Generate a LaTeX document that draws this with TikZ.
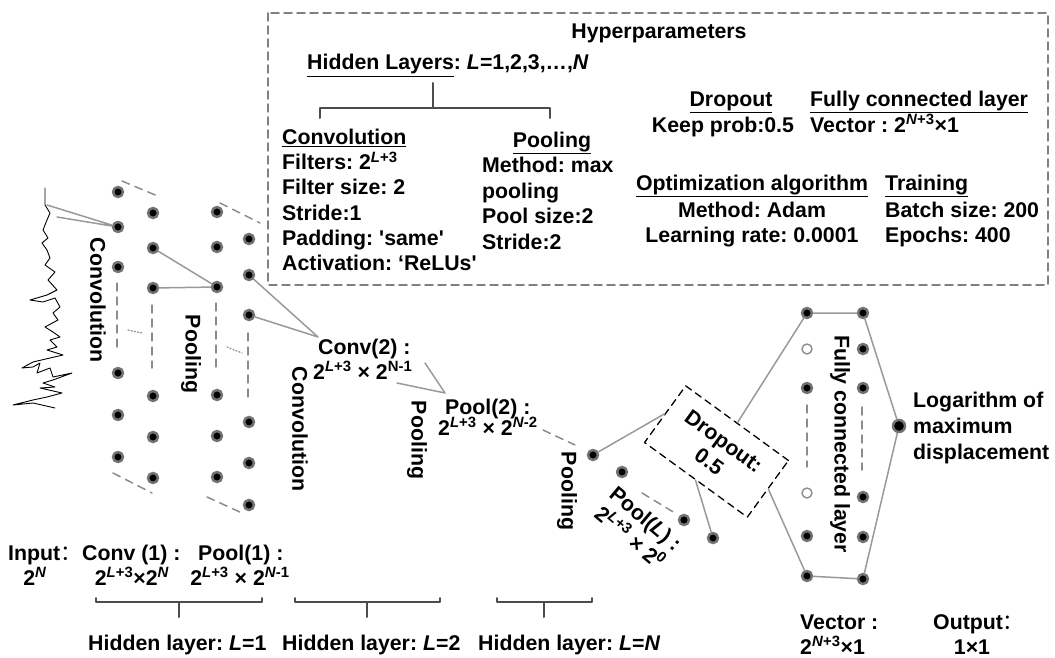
\documentclass[tikz,border=0pt]{standalone}
\usepackage{fontspec}
\newfontfamily\arial{Liberation Sans}
\newfontfamily\cjk{Noto Sans CJK SC}
\newcommand{\twoto}[1]{2\textsuperscript{#1}}
\frenchspacing
\begin{document}
\begin{tikzpicture}[x=1pt, y=-1pt, line join=round, line cap=round,
	font=\arial\bfseries\fontsize{21.3}{25}\selectfont,
	dot/.style={circle, fill=black, draw=black!55, line width=2.5pt, inner sep=0pt, minimum size=10pt},
	hole/.style={circle, fill=white, draw=black!45, line width=1.4pt, inner sep=0pt, minimum size=10pt},
	link/.style={black!40, line width=1.5pt},
	gap/.style={black!45, line width=1.5pt, dash pattern=on 8pt off 6pt},
	brace/.style={black!70, line width=2pt},
	txt/.style={inner sep=0pt, anchor=base west},
	ctr/.style={inner sep=0pt, anchor=base},
	vert/.style={inner sep=0pt, rotate=-90}]
	\useasboundingbox (0,0) rectangle (1055,658);
	% hyperparameters
	\draw[black!50, line width=1.5pt, dash pattern=on 8pt off 5pt] (268,13) rectangle (1048,285);
	\node[ctr] (hyp) at (659,39) {Hyperparameters};
	\node[txt] (hid) at (307,70) {\underline{Hidden Layers}: \textit{L}=1,2,3,…,\textit{N}};
	\draw[brace] (433,83) -- (433,108) (320,118) -- (320,108) -- (550,108) -- (550,118);
	\foreach \t [count=\i from 0] in {\underline{Convolution}, Filters: \twoto{\textit{L}+3}, Filter size: 2, Stride:1, Padding: 'same', Activation: ‘ReLUs'}
		\node[txt] (conv-\i) at (282,{144.5+25.2*\i}) {\t};
	\node[ctr] (pool-0) at (552,147.5) {\underline{Pooling}};
	\foreach \t [count=\i] in {Method: max, pooling, Pool size:2, Stride:2}
		\node[txt] (pool-\i) at (482,{147+25.5*\i}) {\t};
	\node[ctr] (kp-0) at (731,106.5) {\underline{Dropout}};
	\node[ctr] (kp-1) at (723,132.5) {Keep prob:0.5};
	\node[txt] (fc-0) at (810,106.5) {\underline{Fully connected layer}};
	\node[txt] (fc-1) at (810,132.5) {Vector : \twoto{\textit{N}+3}×1};
	\node[ctr] (opt-0) at (752,190.5) {\underline{Optimization algorithm}};
	\node[ctr] (opt-1) at (752,217.5) {Method: Adam};
	\node[ctr] (opt-2) at (752,242.5) {Learning rate: 0.0001};
	\node[txt] (tr-0) at (885,190.5) {\underline{Training}};
	\node[txt] (tr-1) at (885,217.5) {Batch size: 200};
	\node[txt] (tr-2) at (885,242.5) {Epochs: 400};
	% input signal
	\draw[black, line width=0.9pt] plot coordinates {(45,188) (45,205) (50,213) (47,220) (43,230) (48,238) (42,243) (47,250) (50,258) (45,265) (55,272) (48,280) (57,290) (47,295) (30,300) (43,302) (55,298) (60,307) (53,313) (58,320) (45,327) (53,332) (60,337) (50,340) (57,347) (47,350) (63,355) (50,358) (33,362) (22,368) (33,367) (40,363) (37,373) (50,368) (53,377) (72,373) (53,380) (43,383) (55,387) (40,388) (62,393) (47,397) (33,400) (13,405) (33,403) (55,408)};
	\coordinate (s1) at (47,205);
	\coordinate (s2) at (57,217);
	% hidden layers
	\foreach \y [count=\i] in {192,227,267,373,415,457} \node[dot] (a-\i) at (118,\y) {};
	\foreach \y [count=\i] in {213,248,288,396,437,478} \node[dot] (b-\i) at (153,\y) {};
	\foreach \y [count=\i] in {212,247,287,395,436,477} \node[dot] (c-\i) at (217,\y) {};
	\foreach \y [count=\i] in {239,275,315,422,463,505} \node[dot] (d-\i) at (249,\y) {};
	\draw[gap] (117,283) -- (117,347) (152,305) -- (152,368) (216,303) -- (216,367) (248,333) -- (248,397);
	\draw[gap] (122,181) -- (160,197) (113,473) -- (152,493) (220,203) -- (260,223) (207,497) -- (242,513);
	\draw[black!45, line width=1.2pt, dotted] (128,330) -- (142,333) (227,347) -- (242,353);
	\draw[link] (s1) -- (a-2) (s2) -- (a-2);
	\draw[link] (b-2) -- (c-3) (b-3) -- (c-3);
	\coordinate (ctip) at (318,337);
	\draw[link] (d-2) -- (ctip) (d-3) -- (ctip);
	\node[vert] (cv-1) at (98,300) {Convolution};
	\node[vert] (pl-1) at (191,354) {Pooling};
	\node[vert] (cv-2) at (300,429) {Convolution};
	\node[vert] (pl-2) at (417,440) {Pooling};
	\node[vert] (pl-3) at (567,491) {Pooling};
	\node[txt] (cv2a) at (318,354.5) {Conv(2) :};
	\node[txt] (cv2b) at (313,379.5) {\twoto{\textit{L}+3} × \twoto{N-1}};
	\coordinate (pa) at (425,363);
	\coordinate (pb) at (397,383);
	\coordinate (ptip) at (445,393);
	\draw[link] (pa) -- (ptip) (pb) -- (ptip);
	\node[txt] (pl2a) at (445,414.5) {Pool(2) :};
	\node[txt] (pl2b) at (438,435.5) {\twoto{\textit{L}+3} × \twoto{\textit{N}-2}};
	\coordinate (qa) at (543,430);
	\coordinate (qb) at (575,445);
	\draw[gap] (qa) -- (qb);
	\foreach \p [count=\i] in {(593,455),(622,472),(684,520),(713,538)} \node[dot] (e-\i) at \p {};
	\node[rotate=-40, align=center, inner sep=0pt] (pll) at (638,528) {Pool(\textit{L}) :\\\twoto{\textit{L}+3} × \twoto{0}};
	% dropout and fully connected
	\node[draw=black, line width=1.3pt, dash pattern=on 7pt off 5pt, rotate=-36, minimum width=127pt, minimum height=70pt, align=center, inner sep=0pt] (drop) at (716.5,451.5) {Dropout:\\0.5};
	\coordinate (ra) at (642,493);
	\coordinate (rb) at (675,513);
	\draw[gap] (ra) -- (rb);
	\draw[link] (e-1) -- (drop.west) (drop.south) -- (e-4);
	\foreach \y/\s [count=\i] in {313/dot,349/hole,388/dot,493/hole,536/dot,576/dot} \node[\s] (f-\i) at (807,\y) {};
	\foreach \y [count=\i] in {313,349,388,497,537,579} \node[dot] (g-\i) at (863,\y) {};
	\node[dot, minimum size=12pt] (out) at (899,426) {};
	\draw[gap] (807,405) -- (807,467) (862,407) -- (862,470);
	\draw[link] (drop.north) -- (f-1) -- (g-1) -- (out) -- (g-6) -- (f-6) -- (drop.east);
	\node[vert] (fcl) at (840,444) {Fully connected layer};
	\foreach \t [count=\i from 0] in {Logarithm of, maximum, displacement}
		\node[txt] (log-\i) at (913,{407.5+26*\i}) {\t};
	% bottom captions
	\node[txt] (inp) at (8,560.5) {Input{\cjk\mdseries ：}};
	\node[ctr] (inpn) at (35,585.5) {\twoto{\textit{N}}};
	\node[txt] (c1a) at (82,560.5) {Conv (1) :};
	\node[ctr] (c1b) at (132,585.5) {\twoto{\textit{L}+3}×\twoto{\textit{N}}};
	\node[txt] (p1a) at (198,560.5) {Pool(1) :};
	\node[ctr] (p1b) at (240,585.5) {\twoto{\textit{L}+3} × \twoto{\textit{N}-1}};
	\foreach \l/\r/\m in {96/262/179, 295/440/367, 497/592/544}
		\draw[brace] (\l,598) -- (\l,602) -- (\r,602) -- (\r,598) (\m,602) -- (\m,617);
	\node[txt] (h-1) at (88,650.5) {Hidden layer: \textit{L}=1};
	\node[txt] (h-2) at (282,650.5) {Hidden layer: \textit{L}=2};
	\node[txt] (h-3) at (478,650.5) {Hidden layer: \textit{L}=\textit{N}};
	\node[txt] (vec-a) at (800,629.5) {Vector :};
	\node[txt] (vec-b) at (800,654.5) {\twoto{\textit{N}+3}×1};
	\node[txt] (res-a) at (933,629.5) {Output{\cjk\mdseries ：}};
	\node[ctr] (res-b) at (972,654.5) {1×1};
\end{tikzpicture}
\end{document}
